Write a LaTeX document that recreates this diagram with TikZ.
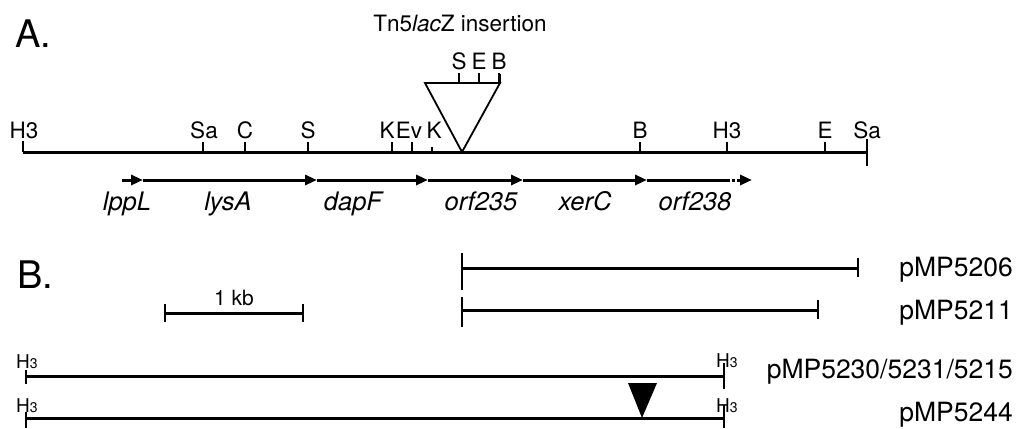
\documentclass[tikz,border=0pt]{standalone}
\usepackage{fontspec}
\setmainfont{TeX Gyre Heros}
\usetikzlibrary{arrows.meta}

\begin{document}
\begin{tikzpicture}[x=1pt,y=-1pt,>=Stealth]
  \tikzset{
    map/.style={line width=3pt},
    tick/.style={line width=2pt},
    site/.style={anchor=base,inner sep=0pt,font=\fontsize{22.5}{24}\selectfont},
    gene/.style={anchor=base,inner sep=0pt,font=\fontsize{25.5}{27}\selectfont\itshape},
    plasmid/.style={anchor=base east,inner sep=0pt,font=\fontsize{26.5}{28}\selectfont},
    panel/.style={anchor=base west,inner sep=0pt,font=\fontsize{38}{40}\selectfont},
    smallsite/.style={inner sep=0pt,font=\fontsize{19}{20}\selectfont},
    orfhead/.style={-{Triangle[length=12pt,width=10pt]}},
  }
  \newcommand{\hthree}{H{\fontsize{14}{14}\selectfont 3}}
  \useasboundingbox (0,0) rectangle (1035,428);

  % A. restriction map
  \node[panel] (pa) at (15,48) {A.};
  \draw[map] (23,152) -- (867,152);
  \draw[tick] (23,141) -- (23,152);
  \draw[tick] (867,139) -- (867,166);
  \node[site] (h3l) at (24,138) {H3};
  \node[site] (sar) at (867,138) {Sa};
  \foreach \x/\lx/\lbl/\nm in {203/204/Sa/sal, 245/245/C/cl, 308/308/S/sl, 392/387/K/kl, 412/409/Ev/ev, 640/640/B/br, 727/727/H3/h3r, 825/825/E/er}{
    \draw[tick] (\x,142) -- (\x,152);
    \node[site] (\nm) at (\lx,138) {\lbl};
  }
  \draw[tick] (432,147) -- (432,152);
  \node[site] (kk) at (434,138) {K};

  % Tn5lacZ insertion
  \node[site] (tn) at (460,32) {Tn5\textit{lac}Z insertion};
  \draw[line width=1.8pt,line join=miter] (425,83) -- (500,83) -- (462,152) -- cycle;
  \foreach \x/\lbl/\nm in {459/S/ts, 479/E/te, 499/B/tb}{
    \draw[tick] (\x,73) -- (\x,83);
    \node[site] (\nm) at (\x,70) {\lbl};
  }
  \draw[line width=3pt] (499,74) -- (499,84);

  % open reading frames
  \foreach \a/\b in {122/143, 143/317, 317/428, 428/523, 523/647}{
    \draw[map,orfhead] (\a,180) -- (\b,180);
  }
  \draw[map] (647,180) -- (727,180);
  \draw[map,dotted] (727,180) -- (742,180);
  \draw[map,orfhead] (742,180) -- (752,180);
  \foreach \x/\lbl/\nm in {127/lppL/glpp, 228/lysA/glys, 353/dapF/gdap, 481/orf235/g235, 585/xerC/gxer, 695/orf238/g238}{
    \node[gene] (\nm) at (\x,210) {\lbl};
  }

  % B. subclones
  \node[panel] (pb) at (17,288) {B.};
  \node[site,font=\fontsize{21}{22}\selectfont] (kb) at (234,305) {1 kb};
  \draw[map] (165,313) -- (303,313);
  \draw[tick] (165,304) -- (165,322);
  \draw[tick] (303,304) -- (303,322);

  \draw[map] (462,268) -- (858,268);
  \draw[tick] (462,253) -- (462,290);
  \draw[tick] (858,258) -- (858,277);
  \node[plasmid] (p06) at (1013,276) {pMP5206};

  \draw[map] (462,310) -- (818,310);
  \draw[tick] (462,297) -- (462,327);
  \draw[tick] (818,300) -- (818,319);
  \node[plasmid] (p11) at (1013,319) {pMP5211};

  \draw[map] (26,376) -- (724,376);
  \draw[tick] (26,370) -- (26,384);
  \draw[tick] (724,363) -- (724,389);
  \node[smallsite,anchor=base west] (h3a) at (16,368) {\hthree};
  \node[smallsite,anchor=base west] (h3b) at (716,367) {\hthree};
  \node[plasmid] (p30) at (1013,378) {pMP5230/5231/5215};

  \draw[map] (26,418) -- (724,418);
  \draw[tick] (26,412) -- (26,428);
  \draw[tick] (724,405) -- (724,428);
  \node[smallsite,anchor=base west] (h3c) at (16,412) {\hthree};
  \node[smallsite,anchor=base west] (h3d) at (716,412) {\hthree};
  \fill (628,383) -- (657,383) -- (642,418) -- cycle;
  \node[plasmid] (p44) at (1013,421) {pMP5244};
\end{tikzpicture}
\end{document}
